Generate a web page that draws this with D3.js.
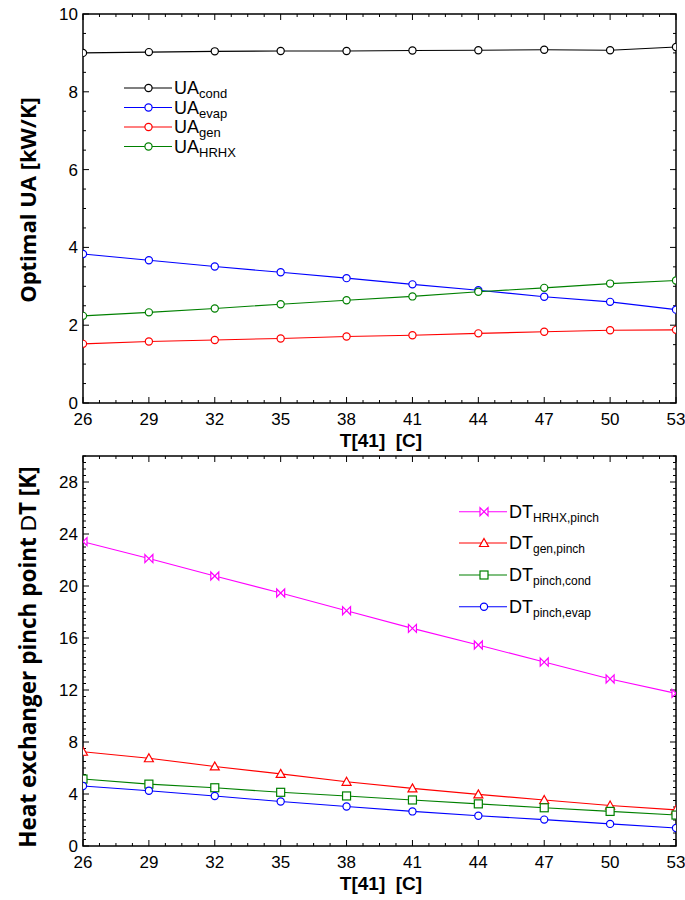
<!DOCTYPE html>
<html><head><meta charset="utf-8">
<script src="https://cdn.jsdelivr.net/npm/d3@7"></script>
<style>body{margin:0;background:#fff}svg{display:block}</style>
</head><body>
<svg id="c" width="685" height="900"></svg>
<script>
const T41 = [26, 29, 32, 35, 38, 41, 44, 47, 50, 53];
const xTicks = [26, 29, 32, 35, 38, 41, 44, 47, 50, 53];
const uaCond = [9.00, 9.02, 9.04, 9.05, 9.05, 9.06, 9.07, 9.08, 9.07, 9.15];
const uaEvap = [3.83, 3.67, 3.51, 3.36, 3.21, 3.05, 2.90, 2.73, 2.60, 2.40];
const uaGen  = [1.52, 1.58, 1.62, 1.66, 1.71, 1.74, 1.79, 1.83, 1.87, 1.88];
const uaHRHX = [2.24, 2.33, 2.43, 2.54, 2.64, 2.74, 2.86, 2.96, 3.07, 3.15];
const dtHRHX = [23.41, 22.11, 20.77, 19.46, 18.10, 16.74, 15.46, 14.15, 12.85, 11.74];
const dtGen  = [7.25, 6.75, 6.12, 5.55, 4.94, 4.43, 3.97, 3.54, 3.11, 2.78];
const dtCond = [5.15, 4.76, 4.48, 4.13, 3.85, 3.54, 3.24, 2.94, 2.66, 2.38];
const dtEvap = [4.61, 4.25, 3.85, 3.42, 3.04, 2.66, 2.33, 2.03, 1.70, 1.39];
const yTicksTop = [0, 2, 4, 6, 8, 10];
const yTicksBot = [0, 4, 8, 12, 16, 20, 24, 28];

const svg = d3.select("#c");
const tickFont = "'Liberation Sans', Arial, sans-serif";
const titleFont = "'Open Sans', sans-serif";

function panel(opts) {
  const g = svg.append("g");
  const x = d3.scaleLinear().domain([26, 53]).range([83, 676]);
  const y = d3.scaleLinear().domain(opts.ydom).range([opts.y1, opts.y0]);
  const xMinor = d3.range(26, 53.001, 0.75);
  const yMinor = d3.range(opts.ydom[0], opts.ydom[1] + 0.001, opts.yMinorStep);
  const tk = g.append("g").attr("stroke", "#000").attr("stroke-width", 1);
  xMinor.forEach(v => {
    const major = xTicks.includes(Math.round(v * 100) / 100);
    const L = major ? 6 : 3;
    tk.append("line").attr("x1", x(v)).attr("x2", x(v)).attr("y1", opts.y1).attr("y2", opts.y1 - L);
    tk.append("line").attr("x1", x(v)).attr("x2", x(v)).attr("y1", opts.y0).attr("y2", opts.y0 + L);
  });
  yMinor.forEach(v => {
    const major = opts.yTicks.includes(Math.round(v * 100) / 100);
    const L = major ? 6 : 3;
    tk.append("line").attr("x1", 83).attr("x2", 83 + L).attr("y1", y(v)).attr("y2", y(v));
    tk.append("line").attr("x1", 676).attr("x2", 676 - L).attr("y1", y(v)).attr("y2", y(v));
  });
  g.append("rect").attr("x", 83).attr("y", opts.y0).attr("width", 593).attr("height", opts.y1 - opts.y0)
    .attr("fill", "none").attr("stroke", "#000").attr("stroke-width", 1.5);
  g.append("g").selectAll("text").data(xTicks).join("text")
    .attr("x", d => x(d)).attr("y", opts.y1 + 22).attr("text-anchor", "middle")
    .attr("font-family", tickFont).attr("font-size", 17).text(d => d);
  g.append("g").selectAll("text").data(opts.yTicks).join("text")
    .attr("x", 78).attr("y", d => y(d) + 6).attr("text-anchor", "end")
    .attr("font-family", tickFont).attr("font-size", 17).text(d => d);
  g.append("text").attr("x", 381).attr("y", opts.y1 + 44).attr("text-anchor", "middle")
    .attr("font-family", "'Liberation Sans Narrow', 'Liberation Sans', Arial, sans-serif")
    .attr("font-weight", "bold").attr("font-size", 19).attr("xml:space", "preserve").text("T[41]  [C]");
  return {g, x, y};
}

function marker(g, type, cx, cy, color) {
  if (type === "circle") {
    g.append("circle").attr("cx", cx).attr("cy", cy).attr("r", 3.6)
      .attr("fill", "#fff").attr("stroke", color).attr("stroke-width", 1.2);
  } else if (type === "tri") {
    g.append("path").attr("d", `M${cx},${cy-4.5} L${cx+4.5},${cy+3.5} L${cx-4.5},${cy+3.5} Z`)
      .attr("fill", "#fff").attr("stroke", color).attr("stroke-width", 1.2);
  } else if (type === "square") {
    g.append("rect").attr("x", cx - 4).attr("y", cy - 4).attr("width", 8).attr("height", 8)
      .attr("fill", "#fff").attr("stroke", color).attr("stroke-width", 1.2);
  } else if (type === "bowtie") {
    g.append("path").attr("d", `M${cx-4},${cy-4} L${cx+4},${cy+4} L${cx+4},${cy-4} L${cx-4},${cy+4} Z`)
      .attr("fill", "#fff").attr("stroke", color).attr("stroke-width", 1.2);
  }
}

function series(p, vals, color, type) {
  const line = d3.line().x((d, i) => p.x(T41[i])).y(d => p.y(d));
  p.g.append("path").datum(vals).attr("d", line).attr("fill", "none")
    .attr("stroke", color).attr("stroke-width", 1.1);
  vals.forEach((v, i) => marker(p.g, type, p.x(T41[i]), p.y(v), color));
}

const defs = svg.append("defs");
defs.append("clipPath").attr("id", "clipTop").append("rect").attr("x", 83).attr("y", 14).attr("width", 593).attr("height", 389);
defs.append("clipPath").attr("id", "clipBot").append("rect").attr("x", 83).attr("y", 456).attr("width", 593).attr("height", 390);

// ---------- Top panel ----------
const topP = panel({ydom: [0, 10], y0: 14, y1: 403, yTicks: yTicksTop, yMinorStep: 0.5});
const topSeries = [
  {vals: uaCond, color: "#000000", sub: "cond"},
  {vals: uaEvap, color: "#0000ff", sub: "evap"},
  {vals: uaGen,  color: "#ff0000", sub: "gen"},
  {vals: uaHRHX, color: "#008000", sub: "HRHX"}
];
const topG = topP.g.append("g").attr("clip-path", "url(#clipTop)");
topSeries.forEach(s => series({g: topG, x: topP.x, y: topP.y}, s.vals, s.color, "circle"));
svg.append("text").attr("transform", "translate(36,200) rotate(-90)").attr("text-anchor", "middle")
  .attr("font-family", titleFont).attr("font-weight", "bold").attr("font-size", 22).text("Optimal UA [kW/K]");
const legTopY = [88, 107.5, 127, 146.5];
topSeries.forEach((s, i) => {
  const cy = legTopY[i];
  svg.append("line").attr("x1", 124).attr("x2", 172).attr("y1", cy).attr("y2", cy).attr("stroke", s.color).attr("stroke-width", 1.1);
  marker(svg, "circle", 148.5, cy, s.color);
  const t = svg.append("text").attr("x", 174).attr("y", cy + 6).attr("font-family", tickFont).attr("font-size", 18);
  t.append("tspan").text("UA");
  t.append("tspan").attr("dy", 4).attr("font-size", 13).text(s.sub);
});

// ---------- Bottom panel ----------
const botP = panel({ydom: [0, 30], y0: 456, y1: 846, yTicks: yTicksBot, yMinorStep: 0.5});
const botSeries = [
  {vals: dtHRHX, color: "#ff00ff", sub: "HRHX,pinch", type: "bowtie"},
  {vals: dtGen,  color: "#ff0000", sub: "gen,pinch", type: "tri"},
  {vals: dtCond, color: "#008000", sub: "pinch,cond", type: "square"},
  {vals: dtEvap, color: "#0000ff", sub: "pinch,evap", type: "circle"}
];
const botG = botP.g.append("g").attr("clip-path", "url(#clipBot)");
botSeries.forEach(s => series({g: botG, x: botP.x, y: botP.y}, s.vals, s.color, s.type));
const yt = svg.append("text").attr("transform", "translate(36,657) rotate(-90)").attr("text-anchor", "middle")
  .attr("font-family", titleFont).attr("font-weight", "bold").attr("font-size", 22.5);
yt.append("tspan").text("Heat exchanger pinch point ");
yt.append("tspan").attr("font-weight", "normal").attr("font-family", tickFont).text("D");
yt.append("tspan").text("T [K]");
const legBotY = [511.7, 543, 575, 606.7];
botSeries.forEach((s, i) => {
  const cy = legBotY[i];
  svg.append("line").attr("x1", 459).attr("x2", 507).attr("y1", cy).attr("y2", cy).attr("stroke", s.color).attr("stroke-width", 1.1);
  marker(svg, s.type, 484, cy, s.color);
  const t = svg.append("text").attr("x", 509).attr("y", cy + 6).attr("font-family", tickFont).attr("font-size", 18);
  t.append("tspan").attr("font-weight", "lighter").text("D");
  t.append("tspan").text("T");
  t.append("tspan").attr("dy", 4).attr("font-size", 12).text(s.sub);
});
</script>
</body></html>
